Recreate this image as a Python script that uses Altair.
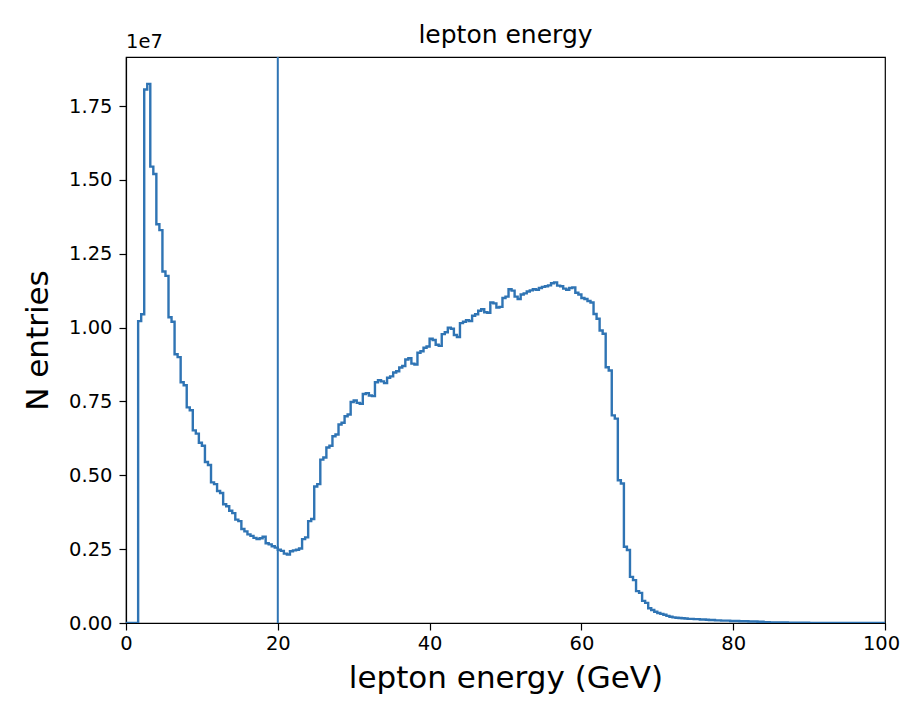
import altair as alt
import pandas as pd

# ---------------- data (counts in units of 1e7, 0.4 GeV bins from 0 to 100) ----------------
bin_start = 0.0
bin_width = 0.4
counts_1e7 = [
    0, 0, 0, 0, 1.022, 1.045, 1.806, 1.825, 1.545, 1.52, 1.35, 1.33, 1.19, 1.175, 1.035, 1.02, 0.91, 0.90, 0.815, 0.805,
    0.73, 0.72, 0.652, 0.641, 0.61, 0.60, 0.545, 0.535, 0.476, 0.47, 0.447, 0.44, 0.402, 0.395, 0.38, 0.372, 0.35, 0.345, 0.318, 0.31,
    0.30, 0.295, 0.288, 0.284, 0.287, 0.292, 0.27, 0.266, 0.26, 0.255, 0.248, 0.244, 0.235, 0.232, 0.243, 0.246, 0.248, 0.252, 0.284, 0.29,
    0.345, 0.352, 0.462, 0.47, 0.553, 0.56, 0.594, 0.60, 0.632, 0.638, 0.672, 0.678, 0.70, 0.706, 0.748, 0.753, 0.745, 0.742, 0.775, 0.778,
    0.77, 0.768, 0.815, 0.822, 0.818, 0.812, 0.83, 0.835, 0.848, 0.852, 0.865, 0.87, 0.892, 0.896, 0.878, 0.875, 0.915, 0.92, 0.932, 0.936,
    0.962, 0.958, 0.942, 0.938, 0.978, 0.984, 1.0, 0.996, 0.975, 0.968, 1.015, 1.02, 1.025, 1.022, 1.04, 1.045, 1.057, 1.062, 1.052, 1.05,
    1.085, 1.082, 1.068, 1.07, 1.10, 1.105, 1.13, 1.125, 1.105, 1.097, 1.112, 1.116, 1.122, 1.126, 1.13, 1.128, 1.134, 1.138, 1.14, 1.143,
    1.15, 1.153, 1.142, 1.14, 1.132, 1.128, 1.134, 1.136, 1.118, 1.112, 1.10, 1.097, 1.09, 1.085, 1.046, 1.03, 0.99, 0.979, 0.866, 0.855,
    0.703, 0.692, 0.483, 0.472, 0.258, 0.247, 0.156, 0.145, 0.108, 0.102, 0.075, 0.068, 0.05, 0.044, 0.038, 0.034, 0.031, 0.028, 0.024, 0.021,
    0.019, 0.018, 0.017, 0.016, 0.015, 0.014, 0.014, 0.013, 0.013, 0.012, 0.012, 0.011, 0.010, 0.010, 0.009, 0.009, 0.008, 0.008, 0.008, 0.007,
    0.007, 0.007, 0.006, 0.006, 0.006, 0.005, 0.005, 0.005, 0.004, 0.004, 0.003, 0.003, 0.002, 0.002, 0.002, 0.002, 0.0015, 0.0015, 0.001, 0.001,
    0.001, 0.001, 0.0008, 0.0008, 0.0006, 0.0005, 0.0005, 0.0004, 0.0004, 0.0003, 0.0003, 0.0003, 0.0002, 0.0002, 0.0002, 0.0002,
    0.0001, 0.0001, 0.0001, 0.0001, 0.0001, 0.0001, 0.0001, 0.0001, 0.0001, 0.0001, 0.0001, 0.0001, 0, 0,
]
cut_energy = [20]
x_ticks = [0, 20, 40, 60, 80, 100]
y_ticks = [0.0, 0.25, 0.5, 0.75, 1.0, 1.25, 1.5, 1.75]
title_text = "lepton energy"
x_title = "lepton energy (GeV)"
y_title = "N entries"
offset_text = ["1e7"]

BLUE = "#2f74b4"
FONT = "DejaVu Sans"

edges = [round(bin_start + bin_width * i, 4) for i in range(len(counts_1e7) + 1)]
hist_df = pd.DataFrame({"energy": edges, "count": counts_1e7 + [counts_1e7[-1]]})

x_scale = alt.Scale(domain=[0, 100], nice=False, zero=False)
y_scale = alt.Scale(domain=[0, 1.916], nice=False)

hist = alt.Chart(hist_df).mark_line(
    interpolate="step-after", color=BLUE, strokeWidth=2.4, clip=True
).encode(
    x=alt.X("energy:Q", scale=x_scale,
            axis=alt.Axis(values=x_ticks, format="d", title=x_title, labelPadding=4,
                          titlePadding=11, labelFlush=False,
                          labelOffset={"condition": {"test": "datum.value == 100", "value": -4},
                                       "value": 0})),
    y=alt.Y("count:Q", scale=y_scale,
            axis=alt.Axis(values=y_ticks, format=".2f", title=y_title, labelPadding=7,
                          titlePadding=14, labelFlush=False)),
)

rule = alt.Chart(pd.DataFrame({"energy": cut_energy})).mark_rule(
    color=BLUE, strokeWidth=2.0
).encode(x=alt.X("energy:Q", scale=x_scale))

offset = alt.Chart(pd.DataFrame({"t": offset_text})).mark_text(
    align="left", baseline="alphabetic", fontSize=19.5, font=FONT, color="black"
).encode(x=alt.value(0), y=alt.value(-9), text="t:N")

chart = alt.layer(hist, rule, offset).properties(
    width=759,
    height=566,
    title=alt.TitleParams(title_text, fontSize=25, font=FONT, fontWeight="normal",
                          anchor="middle", frame="group", color="black", offset=-16),
    autosize=alt.AutoSizeParams(type="none"),
    padding={"left": 118, "top": 49, "right": 15, "bottom": 74},
    background="white",
).configure_axis(
    grid=False,
    domainColor="black",
    domainWidth=1.2,
    tickColor="black",
    tickSize=7,
    tickWidth=1.2,
    labelColor="black",
    labelFont=FONT,
    labelFontSize=19.5,
    titleFont=FONT,
    titleFontSize=31,
    titleFontWeight="normal",
    titleColor="black",
).configure_view(
    stroke="black",
    strokeWidth=1.2,
)

chart.save("out.html", embed_options={"renderer": "svg", "actions": False})
